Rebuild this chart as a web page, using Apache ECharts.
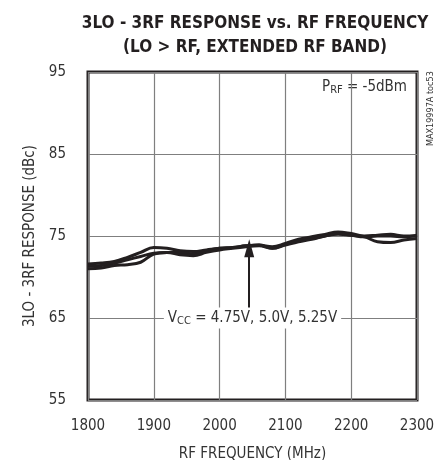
<!DOCTYPE html>
<html>
<head>
<meta charset="utf-8">
<script src="https://cdn.jsdelivr.net/npm/echarts@6/dist/echarts.min.js"></script>
<style>html,body{margin:0;padding:0;background:#fff}#c{width:443px;height:460px}</style>
</head>
<body>
<div id="c"></div>
<script>
const FONT = '"Liberation Sans Narrow","DejaVu Sans Condensed","Roboto Condensed",sans-serif';
const freqs = [1800,1820,1840,1860,1880,1900,1920,1940,1960,1980,2000,2020,2040,2060,2080,2100,2120,2140,2160,2180,2200,2220,2240,2260,2280,2300];
const vcc475 = [71.6,71.7,71.9,72.4,73.0,73.6,73.5,73.2,73.1,73.3,73.5,73.6,73.8,73.9,73.7,74.1,74.6,74.9,75.2,75.5,75.3,75.0,75.1,75.2,75.0,75.0];
const vcc50  = [71.3,71.4,71.7,72.1,72.5,72.9,73.0,73.0,72.8,73.2,73.5,73.6,73.8,73.9,73.5,74.0,74.5,74.7,75.0,75.3,75.1,74.9,75.0,75.0,74.9,75.1];
const vcc525 = [71.0,71.1,71.4,71.5,71.8,72.8,73.0,72.7,72.6,73.0,73.3,73.5,73.7,73.8,73.5,73.9,74.3,74.6,75.0,75.2,75.1,74.9,74.3,74.2,74.5,74.7];
const xTicks = [1800,1900,2000,2100,2200,2300];
const yTicks = [55,65,75,85,95];

const pair = (ys) => freqs.map((f,i)=>[f, ys[i]]);
const lineStyle = {color:'#231f20', width:3};
const chart = echarts.init(document.getElementById('c'));
chart.setOption({
  animation:false,
  title:{
    text:'3LO - 3RF RESPONSE vs. RF FREQUENCY\n(LO > RF, EXTENDED RF BAND)',
    left:250, top:7, textAlign:'center',
    textStyle:{fontFamily:FONT, fontWeight:'bold', fontSize:17, lineHeight:24, color:'#231f20'}
  },
  grid:{left:88, right:26, top:72, bottom:60, show:true, borderColor:'#231f20', borderWidth:3, backgroundColor:'transparent', containLabel:false, outerBoundsMode:'none'},
  xAxis:{
    type:'value', min:1800, max:2300, interval:100,
    name:'RF FREQUENCY (MHz)', nameLocation:'middle', nameGap:47,
    nameTextStyle:{fontFamily:FONT, fontSize:15, color:'#333'},
    axisLine:{show:false}, axisTick:{show:false},
    axisLabel:{fontFamily:FONT, fontSize:15, color:'#333', margin:19, formatter:(v)=> xTicks.includes(v)? String(v):''},
    splitLine:{show:true, lineStyle:{color:'#7f7f7f', width:1.2}}
  },
  yAxis:{
    type:'value', min:55, max:95, interval:10,
    name:'3LO - 3RF RESPONSE (dBc)', nameLocation:'middle', nameGap:49,
    nameTextStyle:{fontFamily:FONT, fontSize:15, color:'#333'},
    axisLine:{show:false}, axisTick:{show:false},
    axisLabel:{fontFamily:FONT, fontSize:15, color:'#333', margin:22, formatter:(v)=> yTicks.includes(v)? String(v):''},
    splitLine:{show:true, lineStyle:{color:'#7f7f7f', width:1.2}}
  },
  series:[
    {type:'line', data:pair(vcc475), smooth:0.4, symbol:'none', lineStyle:lineStyle, z:3},
    {type:'line', data:pair(vcc50), smooth:0.4, symbol:'none', lineStyle:lineStyle, z:3},
    {type:'line', data:pair(vcc525), smooth:0.4, symbol:'none', lineStyle:lineStyle, z:3,
      markLine:{
        silent:true, symbol:['none','triangle'], symbolSize:[10,18],
        lineStyle:{color:'#231f20', width:2, type:'solid'},
        label:{show:false},
        data:[[{coord:[2045,66.2]},{coord:[2045,73.5]}]]
      },
      markPoint:{
        silent:true, symbol:'rect', symbolSize:0,
        data:[
          {coord:[2050,65], label:{show:true, position:'inside', backgroundColor:'#fff', padding:[2,4,2,4],
            formatter:'V{s|CC} = 4.75V, 5.0V, 5.25V',
            fontFamily:FONT, fontSize:15, color:'#333',
            rich:{s:{fontFamily:FONT, fontSize:11, color:'#333', verticalAlign:'bottom', padding:[6,0,0,0]}}}}
        ]
      }
    }
  ],
  graphic:[
    {type:'text', right:36, top:80, style:{
      text:'P{s|RF} = -5dBm', fontFamily:FONT, fontSize:15, fill:'#333',
      rich:{s:{fontFamily:FONT, fontSize:11, fill:'#333', padding:[6,0,0,0]}}}},
    {type:'text', x:426, y:146, rotation:Math.PI/2, style:{
      text:'MAX19997A toc53', fontFamily:FONT, fontSize:9, fill:'#333'}}
  ]
});
</script>
</body>
</html>
